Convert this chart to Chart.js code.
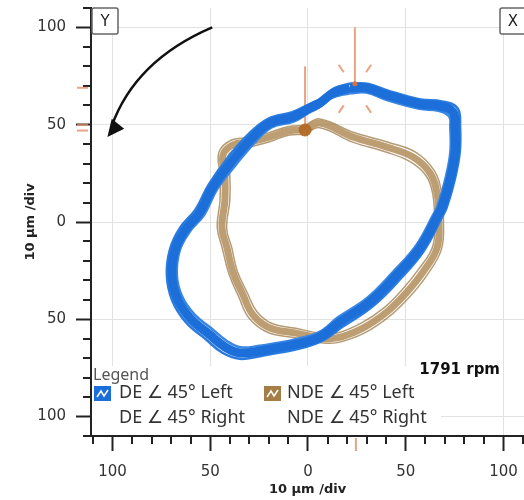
<!DOCTYPE html>
<html lang="en">
<head>
<meta charset="UTF-8">
<title>Orbit plot</title>
<script src="https://cdn.jsdelivr.net/npm/chart.js"></script>
<style>
  body { margin: 0; background: #fff; }
  #wrap { width: 524px; height: 500px; }
</style>
</head>
<body>
<div id="wrap"><canvas id="chart" width="524" height="500"></canvas></div>
<script>
// orbit traces in µm (x right, y up)
const deCenter = [[21.5,68.9],[30.2,68.9],[40.4,65.2],[57.3,60.6],[67.5,59.6],[74.2,56.5],[75.2,48.8],[75.2,35.5],[72.6,21.6],[68.5,7.7],[66.5,3.6],[57.3,-13.4],[45.5,-27.2],[31.7,-41.1],[16.4,-51.4],[6.1,-59.1],[-7.7,-63.2],[-15.9,-64.7],[-24.6,-66.3],[-34.8,-67.3],[-42.5,-64.2],[-50.1,-58.1],[-60.4,-49.3],[-67,-39.1],[-69.6,-27.2],[-68,-14.4],[-62.9,-4.1],[-55.2,5.1],[-48.6,18],[-38.4,31.9],[-28.1,43.7],[-19.4,50.9],[-7.7,54],[1,58.6],[6.1,61.2],[12.8,66.3],[21.5,68.9]];
const deOuter = [[21.5,71.2],[31,71],[41,67.5],[57.5,63],[68.5,62],[76.5,58.5],[77.8,49],[77.6,35.5],[75,21.5],[71,7.5],[68.8,3],[59.5,-14.5],[47.5,-29],[33.3,-43.2],[17.5,-54],[6.5,-61.5],[-7.5,-65.8],[-15.8,-67.3],[-24.6,-69],[-35,-70.3],[-43.8,-67.2],[-52,-60.5],[-62.5,-51.5],[-69.5,-40.2],[-72.2,-27.4],[-70.6,-14],[-65.5,-3],[-57.5,6.5],[-50.8,19.2],[-40.5,33.8],[-29.8,45.8],[-20.2,53.2],[-8,56.5],[1.5,61],[6.8,63.6],[13.5,68.8],[21.5,71.2]];
const deInner = [[21.5,66.2],[29.8,66.5],[40,62.8],[57,58.2],[66.6,57.2],[72.2,54.3],[72.8,48.6],[72.8,35.6],[70.2,21.8],[66.2,8],[64.2,4],[55.2,-12.2],[43.6,-25.5],[30.2,-39],[15.3,-49],[5.6,-56.6],[-7.8,-60.6],[-16,-62.2],[-24.5,-63.6],[-34.4,-64.4],[-41.3,-61.3],[-48.3,-55.6],[-58.3,-47.2],[-64.6,-37.8],[-67.1,-27],[-65.6,-14.6],[-60.5,-5],[-53,3.8],[-46.5,16.8],[-36.4,30],[-26.5,41.6],[-18.6,48.6],[-7.4,51.6],[0.6,56.2],[5.5,58.8],[12.2,63.8],[21.5,66.2]];

const ndeCenter = [[-1.5,47.3],[6,50.9],[23,43.7],[40.4,38.5],[53.7,33.4],[62.4,25.2],[66,14.9],[67,1],[66,-13.4],[58.8,-25.7],[50.6,-36],[40.4,-46.2],[28.1,-54.5],[14.8,-59.6],[6.1,-59.6],[-6.6,-57],[-19.4,-54.5],[-28.1,-47.8],[-33.2,-37.5],[-38.4,-25.7],[-41.4,-13.4],[-44,-3.1],[-42.5,11.3],[-42.5,24.2],[-43.5,34.4],[-38.4,39.6],[-29.7,41.1],[-19.4,43.7],[-10.2,46.8],[-1.5,47.3]];
const ndeOuter = [[-1.5,49.6],[6,53],[23.5,46],[41,41],[55.2,35.8],[64.5,26.5],[68.3,15.2],[69.3,1],[68.2,-14.2],[60.8,-27.4],[52.4,-38],[41.8,-48.4],[29,-57],[15,-62],[6,-62],[-7,-59.4],[-20.4,-56.8],[-30,-49.6],[-35.4,-38.5],[-40.6,-26.2],[-43.8,-13.6],[-46.4,-3],[-45,11.3],[-45,24.2],[-45.6,35.8],[-39.4,42],[-30,43.5],[-19.6,46],[-10.4,49],[-1.5,49.6]];
const ndeInner = [[-1.5,45],[6,48.5],[22.5,41.2],[39.8,36],[52.2,31],[60.4,23.8],[63.8,14.6],[64.7,1],[63.8,-12.6],[56.8,-24],[48.8,-34],[39,-44],[27.2,-52],[14.6,-57.2],[6.2,-57.2],[-6.2,-54.6],[-18.4,-52.2],[-26.2,-46],[-31,-36.5],[-36.2,-25.2],[-39,-13.2],[-41.6,-3.2],[-40,11.3],[-40,24.2],[-41.2,33],[-37.4,37.2],[-29.4,38.7],[-19.2,41.4],[-10,44.6],[-1.5,45]];

// once-per-turn marks
const deKeyphasor = [[24,70]];
const ndeKeyphasor = [[-1.5,47.3]];
const yAxisMarks = [69, 50, 47];
const xAxisMarks = [24.5];

const axisTicks = [-110,-100,-90,-80,-70,-60,-50,-40,-30,-20,-10,0,10,20,30,40,50,60,70,80,90,100,110];
const legendLabels = ['DE \u2220 45\u00b0 Left', 'DE \u2220 45\u00b0 Right', 'NDE \u2220 45\u00b0 Left', 'NDE \u2220 45\u00b0 Right'];
const axisTitle = '10 \u00b5m /div';
const speedText = '1791 rpm';

const toXY = arr => arr.map(([x, y]) => ({ x, y }));

const BLUE = '#1c6fd9';
const BROWN = '#a57d46';
const ORANGE = 'rgba(228,140,100,0.8)';

const isMajor = v => v % 50 === 0;

const decor = {
    id: 'decor',
    beforeDatasetsDraw(chart) {
        const { ctx, chartArea: a, scales: { x, y } } = chart;
        ctx.save();
        // legend panel hides the grid behind it
        ctx.fillStyle = '#fff';
        ctx.fillRect(a.left + 1, a.bottom - 70, 349, 69);
        // keyphasor lines
        ctx.strokeStyle = ORANGE;
        ctx.lineWidth = 2;
        const kx = x.getPixelForValue(deKeyphasor[0][0]);
        ctx.beginPath();
        ctx.moveTo(kx, y.getPixelForValue(100));
        ctx.lineTo(kx, y.getPixelForValue(deKeyphasor[0][1]));
        ctx.stroke();
        const bx = x.getPixelForValue(ndeKeyphasor[0][0]);
        ctx.beginPath();
        ctx.moveTo(bx, y.getPixelForValue(80));
        ctx.lineTo(bx, y.getPixelForValue(ndeKeyphasor[0][1]));
        ctx.stroke();
        // burst around DE keyphasor
        const ky = y.getPixelForValue(deKeyphasor[0][1]) + 3;
        [[-1, -1], [1, -1], [-1, 1], [1, 1]].forEach(([sx, sy]) => {
            const ang = 34 * Math.PI / 180;
            const dx = Math.sin(ang) * sx, dy = Math.cos(ang) * sy;
            ctx.beginPath();
            ctx.moveTo(kx + dx * 20, ky + dy * 20);
            ctx.lineTo(kx + dx * 29, ky + dy * 29);
            ctx.stroke();
        });
        ctx.restore();
    },
    afterDatasetsDraw(chart) {
        const { ctx, chartArea: a, scales: { x, y } } = chart;
        ctx.save();
        // keyphasor dots
        ctx.fillStyle = 'rgba(176,104,36,0.9)';
        ctx.beginPath();
        ctx.arc(x.getPixelForValue(ndeKeyphasor[0][0]), y.getPixelForValue(ndeKeyphasor[0][1]), 6.5, 0, Math.PI * 2);
        ctx.fill();
        ctx.fillStyle = '#e0703a';
        ctx.beginPath();
        ctx.arc(x.getPixelForValue(deKeyphasor[0][0]), y.getPixelForValue(deKeyphasor[0][1]) - 2, 2.5, 0, Math.PI * 2);
        ctx.fill();

        // rotation arrow
        const p = (vx, vy) => [x.getPixelForValue(vx), y.getPixelForValue(vy)];
        const s = p(-49, 100), c = p(-88.5, 83), e = p(-100.5, 49);
        ctx.strokeStyle = '#111';
        ctx.lineWidth = 2.5;
        ctx.beginPath();
        ctx.moveTo(s[0], s[1]);
        ctx.quadraticCurveTo(c[0], c[1], e[0], e[1]);
        ctx.stroke();
        const tip = p(-102.6, 43.7);
        const dir = [-0.62, 0.78], nrm = [0.78, 0.62];
        ctx.fillStyle = '#111';
        ctx.beginPath();
        ctx.moveTo(tip[0], tip[1]);
        ctx.lineTo(tip[0] - dir[0] * 17 + nrm[0] * 8, tip[1] - dir[1] * 17 + nrm[1] * 8);
        ctx.lineTo(tip[0] - dir[0] * 17 - nrm[0] * 8, tip[1] - dir[1] * 17 - nrm[1] * 8);
        ctx.closePath();
        ctx.fill();

        // probe boxes
        ctx.lineWidth = 1.5;
        ctx.strokeStyle = '#666';
        ctx.fillStyle = '#fff';
        ctx.font = '15px "DejaVu Sans"';
        ctx.textAlign = 'center';
        ctx.textBaseline = 'middle';
        [['Y', a.left + 1, 26], ['X', a.right - 24, 30]].forEach(([t, bx, w]) => {
            ctx.beginPath();
            ctx.roundRect(bx, a.top, w, 26, 2);
            ctx.fill();
            ctx.stroke();
            ctx.fillStyle = '#222';
            ctx.fillText(t, bx + 13, a.top + 14);
            ctx.fillStyle = '#fff';
        });

        // legend
        ctx.textAlign = 'left';
        ctx.fillStyle = '#555';
        ctx.font = '16px "Noto Sans"';
        ctx.fillText('Legend', a.left + 2, a.bottom - 61);
        const rows = [a.bottom - 43, a.bottom - 18];
        const cols = [a.left + 28, a.left + 196];
        const icon = (ix, iy, col) => {
            ctx.fillStyle = col;
            ctx.fillRect(ix, iy - 7, 17, 15);
            ctx.strokeStyle = '#fff';
            ctx.lineWidth = 1.5;
            ctx.beginPath();
            ctx.moveTo(ix + 3, iy + 4);
            ctx.lineTo(ix + 7, iy - 2);
            ctx.lineTo(ix + 10, iy + 3);
            ctx.lineTo(ix + 14, iy - 3);
            ctx.stroke();
        };
        icon(a.left + 3, rows[0], BLUE);
        icon(a.left + 173, rows[0], BROWN);
        ctx.fillStyle = '#333';
        ctx.font = '18px "Noto Sans"';
        ctx.fillText(legendLabels[0], cols[0], rows[0]);
        ctx.fillText(legendLabels[1], cols[0], rows[1]);
        ctx.fillText(legendLabels[2], cols[1], rows[0]);
        ctx.fillText(legendLabels[3], cols[1], rows[1]);

        // speed
        ctx.textAlign = 'right';
        ctx.fillStyle = '#111';
        ctx.font = 'bold 15px "DejaVu Sans"';
        ctx.fillText(speedText, a.right - 24, a.bottom - 66);
        ctx.restore();
    },
    afterDraw(chart) {
        const { ctx, chartArea: a, scales: { x, y } } = chart;
        ctx.save();
        // minor ticks
        ctx.strokeStyle = '#222';
        ctx.lineWidth = 2;
        axisTicks.filter(v => !isMajor(v)).forEach(v => {
            const px = Math.round(x.getPixelForValue(v));
            ctx.beginPath();
            ctx.moveTo(px, a.bottom);
            ctx.lineTo(px, a.bottom + 8);
            ctx.stroke();
            const py = Math.round(y.getPixelForValue(v));
            ctx.beginPath();
            ctx.moveTo(a.left, py);
            ctx.lineTo(a.left - 8, py);
            ctx.stroke();
        });
        // keyphasor marks on the axes
        ctx.strokeStyle = ORANGE;
        yAxisMarks.forEach(v => {
            const py = y.getPixelForValue(v);
            ctx.beginPath();
            ctx.moveTo(a.left - 14, py);
            ctx.lineTo(a.left - 3, py);
            ctx.stroke();
        });
        xAxisMarks.forEach(v => {
            const px = x.getPixelForValue(v);
            ctx.beginPath();
            ctx.moveTo(px, a.bottom + 2);
            ctx.lineTo(px, a.bottom + 15);
            ctx.stroke();
        });
        ctx.restore();
    }
};

const tickFont = { family: 'DejaVu Sans', size: 15 };
const titleFont = { family: 'DejaVu Sans', size: 13, weight: 'bold' };
const gridOpts = {
    color: c => (c.tick && isMajor(c.tick.value)) ? '#e2e2e2' : 'rgba(0,0,0,0)',
    tickColor: c => (c.tick && isMajor(c.tick.value)) ? '#222' : 'rgba(0,0,0,0)',
    tickLength: 15,
    tickWidth: 2,
    drawTicks: true
};

new Chart(document.getElementById('chart'), {
    type: 'scatter',
    data: {
        datasets: [
            { label: legendLabels[0], data: toXY(deCenter), borderColor: BLUE, borderWidth: 9, order: 1 },
            { label: legendLabels[0], data: toXY(deOuter), borderColor: '#2a7be0', borderWidth: 2.5, order: 2 },
            { label: legendLabels[0], data: toXY(deInner), borderColor: '#3a86e3', borderWidth: 2.5, order: 2 },
            { label: legendLabels[2], data: toXY(ndeCenter), borderColor: 'rgba(172,134,80,0.8)', borderWidth: 7, order: 3 },
            { label: legendLabels[2], data: toXY(ndeOuter), borderColor: 'rgba(150,112,58,0.7)', borderWidth: 1.5, order: 4 },
            { label: legendLabels[2], data: toXY(ndeInner), borderColor: 'rgba(150,112,58,0.7)', borderWidth: 1.5, order: 4 }
        ].map(d => Object.assign(d, { showLine: true, pointRadius: 0, tension: 0.4, fill: false }))
    },
    options: {
        responsive: false,
        animation: false,
        layout: { padding: { top: 8, right: 0, bottom: 0, left: 0 } },
        plugins: { legend: { display: false }, tooltip: { enabled: false } },
        scales: {
            x: {
                type: 'linear', min: -111, max: 110.5,
                afterBuildTicks: s => { s.ticks = axisTicks.map(v => ({ value: v })); },
                afterFit: s => { s.height = 64; s.paddingLeft = 0; s.paddingRight = 0; },
                ticks: { autoSkip: false, maxRotation: 0, padding: 12, color: '#333', font: tickFont,
                    callback: v => isMajor(v) ? String(Math.abs(v)) : '' },
                grid: gridOpts,
                border: { display: true, color: '#222', width: 2 },
                title: { display: true, text: axisTitle, color: '#222', font: titleFont, padding: { top: 0, bottom: 3 } }
            },
            y: {
                type: 'linear', min: -110, max: 110,
                afterBuildTicks: s => { s.ticks = axisTicks.map(v => ({ value: v })); },
                afterFit: s => { s.width = 91; s.paddingTop = 0; s.paddingBottom = 0; },
                ticks: { autoSkip: false, padding: 10, color: '#333', font: tickFont,
                    callback: v => isMajor(v) ? String(Math.abs(v)) : '' },
                grid: gridOpts,
                border: { display: true, color: '#222', width: 2 },
                title: { display: true, text: axisTitle, color: '#222', font: titleFont, padding: { top: 23, bottom: 0 } }
            }
        }
    },
    plugins: [decor]
});
</script>
</body>
</html>
